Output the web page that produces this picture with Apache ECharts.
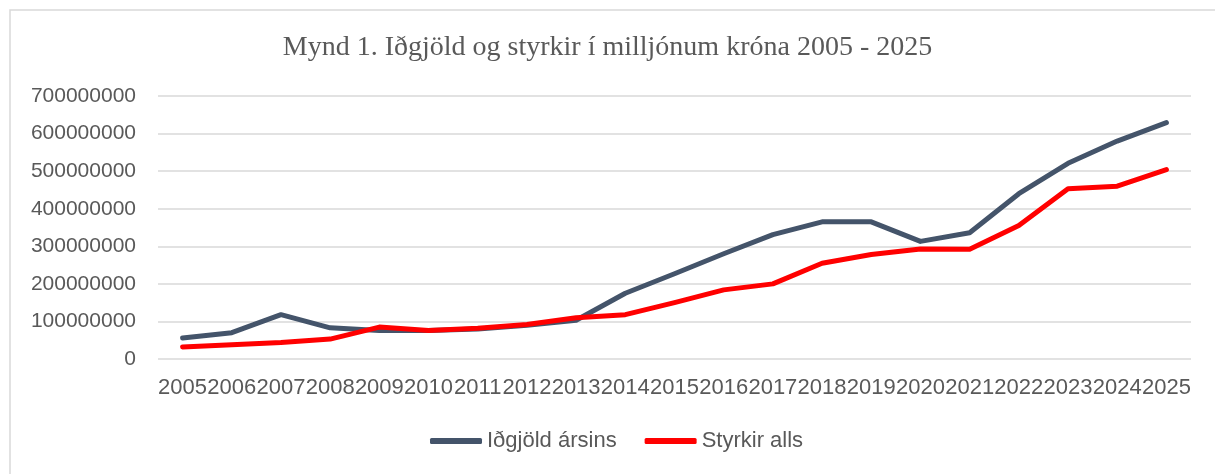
<!DOCTYPE html>
<html>
<head>
<meta charset="utf-8">
<script src="https://cdn.jsdelivr.net/npm/echarts@6/dist/echarts.min.js"></script>
<style>
  html, body { margin: 0; padding: 0; background: #fff; }
  #chart { width: 1215px; height: 474px; }
</style>
</head>
<body>
<div id="chart"></div>
<script>
// ár
var years = ['2005', '2006', '2007', '2008', '2009', '2010', '2011', '2012', '2013', '2014', '2015',
  '2016', '2017', '2018', '2019', '2020', '2021', '2022', '2023', '2024', '2025'];
// Iðgjöld ársins
var idgjold = [56e6, 70e6, 118e6, 83e6, 76e6, 76e6, 80e6, 90e6, 103e6, 175e6, 227e6,
  280e6, 331e6, 365e6, 365e6, 313e6, 336e6, 440e6, 521e6, 580e6, 629e6];
// Styrkir alls
var styrkir = [32e6, 38e6, 44e6, 53e6, 85e6, 76e6, 82e6, 92e6, 110e6, 118e6, 150e6,
  184e6, 200e6, 255e6, 278e6, 293e6, 292e6, 355e6, 453e6, 460e6, 504e6];
var yTicks = [0, 100000000, 200000000, 300000000, 400000000, 500000000, 600000000, 700000000];

var myChart = echarts.init(document.getElementById('chart'));
var option = {
  animation: false,
  backgroundColor: '#fff',
  graphic: [{
    type: 'rect',
    shape: { x: 10, y: 10, width: 1230, height: 490 },
    style: { fill: 'none', stroke: '#d9d9d9', lineWidth: 1.5 },
    silent: true
  }],
  title: {
    text: 'Mynd 1. Iðgjöld og styrkir í milljónum króna 2005 - 2025',
    left: 'center',
    top: 29,
    textStyle: { fontFamily: 'Liberation Serif', fontSize: 28, fontWeight: 'normal', color: '#595959' }
  },
  legend: {
    bottom: 17,
    left: 425,
    itemWidth: 52,
    itemHeight: 6,
    itemGap: 28,
    icon: 'roundRect',
    textStyle: { fontFamily: 'Liberation Sans', fontSize: 22, color: '#595959' },
    data: ['Iðgjöld ársins', 'Styrkir alls']
  },
  grid: { left: 158, right: 24, top: 96, bottom: 115 },
  xAxis: {
    type: 'category',
    data: years,
    boundaryGap: true,
    axisLine: { show: false },
    axisTick: { show: false },
    axisLabel: { interval: 0, margin: 18, fontFamily: 'Liberation Sans', fontSize: 22, color: '#595959' }
  },
  yAxis: {
    type: 'value',
    min: yTicks[0],
    max: yTicks[yTicks.length - 1],
    interval: 100000000,
    axisLine: { show: false },
    axisTick: { show: false },
    axisLabel: {
      margin: 22, fontFamily: 'Liberation Sans', fontSize: 21, color: '#595959',
      formatter: function (v) { return String(v); }
    },
    splitLine: { lineStyle: { color: '#d9d9d9', width: 1.5 } }
  },
  series: [{
    name: 'Iðgjöld ársins',
    type: 'line',
    data: idgjold,
    showSymbol: false,
    symbol: 'none',
    itemStyle: { color: '#44546A' },
    lineStyle: { color: '#44546A', width: 5, cap: 'round', join: 'round' }
  }, {
    name: 'Styrkir alls',
    type: 'line',
    data: styrkir,
    showSymbol: false,
    symbol: 'none',
    itemStyle: { color: '#FF0000' },
    lineStyle: { color: '#FF0000', width: 5, cap: 'round', join: 'round' }
  }]
};
myChart.setOption(option);
</script>
</body>
</html>
